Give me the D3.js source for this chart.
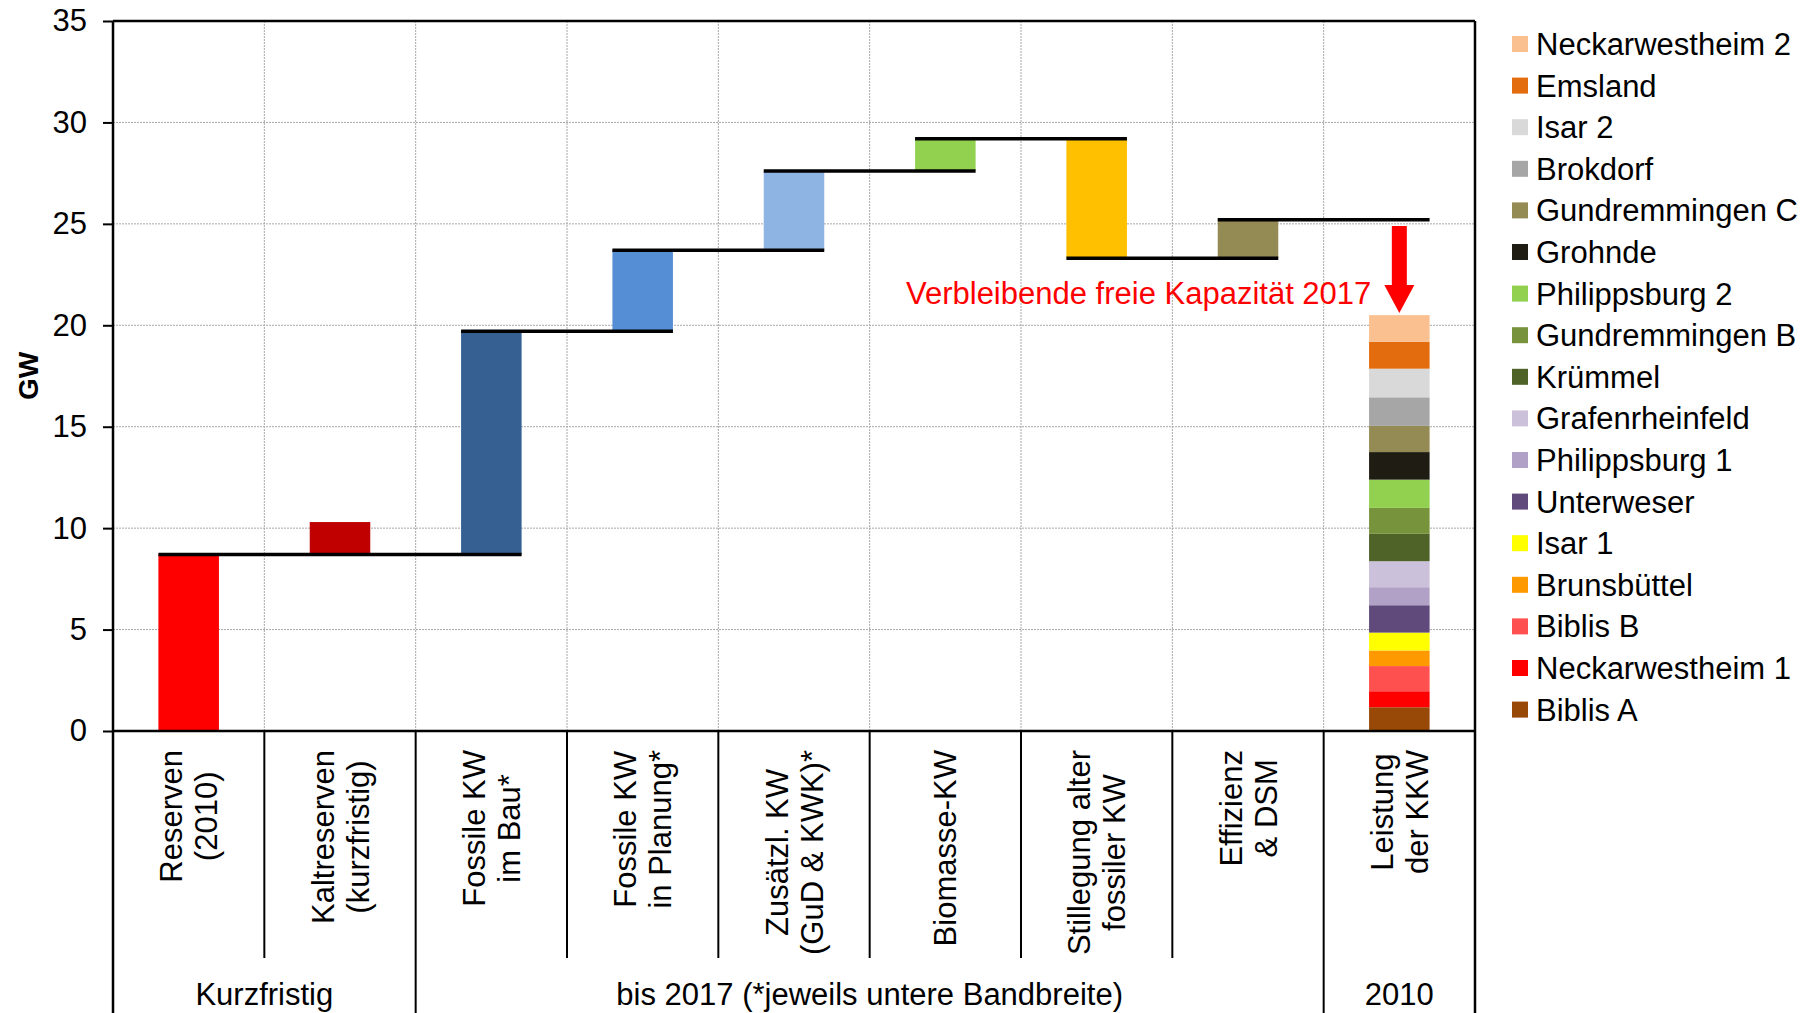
<!DOCTYPE html>
<html>
<head>
<meta charset="utf-8">
<script src="https://cdn.jsdelivr.net/npm/d3@7"></script>
<style>
  body { margin: 0; background: #fff; }
  text { font-family: "Liberation Sans", Arial, sans-serif; fill: #000; }
</style>
</head>
<body>
<svg id="chart" width="1814" height="1013"></svg>
<script>
// --- data ---
const categories = [
  ["Reserven", "(2010)"],
  ["Kaltreserven", "(kurzfristig)"],
  ["Fossile KW", "im Bau*"],
  ["Fossile KW", "in Planung*"],
  ["Zusätzl. KW", "(GuD & KWK)*"],
  ["Biomasse-KW"],
  ["Stillegung alter", "fossiler KW"],
  ["Effizienz", "& DSM"],
  ["Leistung", "der KKW"]
];
const groups = ["Kurzfristig", "bis 2017 (*jeweils untere Bandbreite)", "2010"];
const groupStart = [0, 2, 8];
const groupEnd = [2, 8, 9];

// waterfall steps (GW), one per category except the last
const barLow  = [0,   8.7,  8.7,  19.7, 23.7, 27.6, 23.3, 23.3];
const barHigh = [8.7, 10.3, 19.7, 23.7, 27.6, 29.2, 29.2, 25.2];
const barColors = ["#ff0000", "#c00000", "#376092", "#558ed5", "#8eb4e3", "#92d050", "#ffc000", "#948a54"];

// cumulative level lines
const connLevel = [8.7, 19.7, 23.7, 27.6, 29.2, 23.3, 25.2];
const connFrom  = [0, 2, 3, 4, 5, 6, 7];
const connTo    = [2, 3, 4, 5, 6, 7, 8];

// nuclear plants, bottom to top of the stack (GW)
const plants = ["Biblis A", "Neckarwestheim 1", "Biblis B", "Brunsbüttel", "Isar 1", "Unterweser",
  "Philippsburg 1", "Grafenrheinfeld", "Krümmel", "Gundremmingen B", "Philippsburg 2", "Grohnde",
  "Gundremmingen C", "Brokdorf", "Isar 2", "Emsland", "Neckarwestheim 2"];
const plantGW = [1.17, 0.79, 1.24, 0.77, 0.88, 1.35, 0.89, 1.28, 1.35, 1.28, 1.39, 1.36, 1.29, 1.41, 1.41, 1.33, 1.31];
const plantColors = ["#984807", "#ff0000", "#ff5050", "#ff9900", "#ffff00", "#604a7b",
  "#b2a1c7", "#ccc1da", "#4f6228", "#77933c", "#92d050", "#1f1d13",
  "#948a54", "#a6a6a6", "#d9d9d9", "#e36c0e", "#fac090"];

const yTicks = [0, 5, 10, 15, 20, 25, 30, 35];
const note = "Verbleibende freie Kapazität 2017";
const arrowFrom = 24.9, arrowTo = 20.6, noteLevel = 21.05;

// --- layout ---
const svg = d3.select('#chart');
const W = +svg.attr('width'), H = +svg.attr('height');
const L = 113, R = 1475, T = 21, B = 731;
const labelTop = 750, sepBottom = 958;
const fs = '31px';

const idx = d3.range(categories.length);
const xCat = d3.scaleBand().domain(idx).range([L, R]);
const xBar = d3.scaleBand().domain(idx).range([L, R]).paddingInner(0.6).paddingOuter(0.3);
const y = d3.scaleLinear().domain([0, 35]).range([B, T]);
const bw = xBar.bandwidth();

// grid
svg.append('g').selectAll('line')
   .data(yTicks.filter(d => d > 0 && d < 35))
   .join('line')
   .attr('x1', L).attr('x2', R)
   .attr('y1', d => y(d)).attr('y2', d => y(d))
   .attr('stroke', '#a8a8a8').attr('stroke-width', 1).attr('stroke-dasharray', '2,1');

svg.append('g').selectAll('line')
   .data(idx.slice(1))
   .join('line')
   .attr('x1', d => xCat(d)).attr('x2', d => xCat(d))
   .attr('y1', T).attr('y2', B)
   .attr('stroke', '#a8a8a8').attr('stroke-width', 1).attr('stroke-dasharray', '2,1');

// waterfall bars
svg.append('g').selectAll('rect')
   .data(barLow)
   .join('rect')
   .attr('x', (d, i) => xBar(i))
   .attr('width', bw)
   .attr('y', (d, i) => y(barHigh[i]))
   .attr('height', (d, i) => y(d) - y(barHigh[i]))
   .attr('fill', (d, i) => barColors[i]);

// stacked KKW bar
let row = {};
plants.forEach((p, i) => row[p] = plantGW[i]);
const series = d3.stack().keys(plants)([row]);
svg.append('g').selectAll('rect')
   .data(series)
   .join('rect')
   .attr('x', xBar(8))
   .attr('width', bw)
   .attr('y', d => y(d[0][1]))
   .attr('height', d => y(d[0][0]) - y(d[0][1]))
   .attr('fill', (d, i) => plantColors[i]);

// level lines
svg.append('g').selectAll('line')
   .data(connLevel)
   .join('line')
   .attr('x1', (d, i) => xBar(connFrom[i]))
   .attr('x2', (d, i) => xBar(connTo[i]) + bw)
   .attr('y1', d => y(d)).attr('y2', d => y(d))
   .attr('stroke', '#000').attr('stroke-width', 3.5);

// arrow + note
const cx = xBar(8) + bw / 2;
const ya = y(arrowFrom), yb = y(arrowTo);
const head = 28;
svg.append('path')
   .attr('d', d3.line()([
     [cx - 7.5, ya], [cx + 7.5, ya], [cx + 7.5, yb - head], [cx + 15, yb - head],
     [cx, yb], [cx - 15, yb - head], [cx - 7.5, yb - head]
   ]) + 'Z')
   .attr('fill', '#ff0000');

svg.append('text')
   .attr('x', cx - 28).attr('y', y(noteLevel))
   .attr('text-anchor', 'end')
   .style('font-size', fs).style('fill', '#ff0000')
   .text(note);

// y axis ticks and labels
const yAxis = svg.append('g')
   .attr('transform', `translate(${L},0)`)
   .call(d3.axisLeft(y).tickValues(yTicks).tickSize(10).tickPadding(16));
yAxis.select('.domain').remove();
yAxis.selectAll('line').attr('stroke', '#000').attr('stroke-width', 2);
yAxis.selectAll('text').style('font-size', fs).attr('fill', '#000')
   .style('font-family', '"Liberation Sans", Arial, sans-serif');

svg.append('text')
   .attr('transform', `translate(38,${(T + B) / 2}) rotate(-90)`)
   .attr('text-anchor', 'middle')
   .style('font-size', '28px').style('font-weight', 'bold')
   .text('GW');

// frame
const frame = svg.append('g').attr('stroke', '#000').attr('stroke-width', 2.5);
frame.append('line').attr('x1', L).attr('x2', R).attr('y1', T).attr('y2', T);
frame.append('line').attr('x1', L).attr('x2', R).attr('y1', B).attr('y2', B);
frame.append('line').attr('x1', L).attr('x2', L).attr('y1', T).attr('y2', H);
frame.append('line').attr('x1', R).attr('x2', R).attr('y1', T).attr('y2', H);

// category separators below the axis
const groupEdges = groupStart.concat([categories.length]);
svg.append('g').selectAll('line')
   .data(idx.slice(1))
   .join('line')
   .attr('x1', d => xCat(d)).attr('x2', d => xCat(d))
   .attr('y1', B).attr('y2', d => groupEdges.includes(d) ? H : sepBottom)
   .attr('stroke', '#000').attr('stroke-width', 2);

// rotated category labels
const lineH = 35;
const catG = svg.append('g').selectAll('g')
   .data(categories)
   .join('g')
   .attr('transform', (d, i) => `translate(${xCat(i) + xCat.bandwidth() / 2},${labelTop}) rotate(-90)`);

catG.each(function (lines) {
  const g = d3.select(this);
  const t = g.selectAll('text')
     .data(lines)
     .join('text')
     .attr('text-anchor', 'middle')
     .style('font-size', fs)
     .attr('y', (d, j) => 11 + (j - (lines.length - 1) / 2) * lineH)
     .text(d => d);
  const maxW = d3.max(t.nodes(), n => n.getComputedTextLength());
  t.attr('x', -maxW / 2);
});

// group labels
svg.append('g').selectAll('text')
   .data(groups)
   .join('text')
   .attr('x', (d, i) => (xCat(groupStart[i]) + (groupEnd[i] < categories.length ? xCat(groupEnd[i]) : R)) / 2)
   .attr('y', 1005)
   .attr('text-anchor', 'middle')
   .style('font-size', fs)
   .text(d => d);

// legend, top entry is the top of the stack
const legendRows = plants.map((p, i) => ({ name: p, color: plantColors[i] })).reverse();
const leg = svg.append('g').selectAll('g')
   .data(legendRows)
   .join('g')
   .attr('transform', (d, i) => `translate(1512,${44 + i * 41.6})`);
leg.append('rect')
   .attr('x', 0).attr('y', -8).attr('width', 16).attr('height', 16)
   .attr('fill', d => d.color);
leg.append('text')
   .attr('x', 24).attr('y', 11)
   .style('font-size', fs)
   .text(d => d.name);
</script>
</body>
</html>
